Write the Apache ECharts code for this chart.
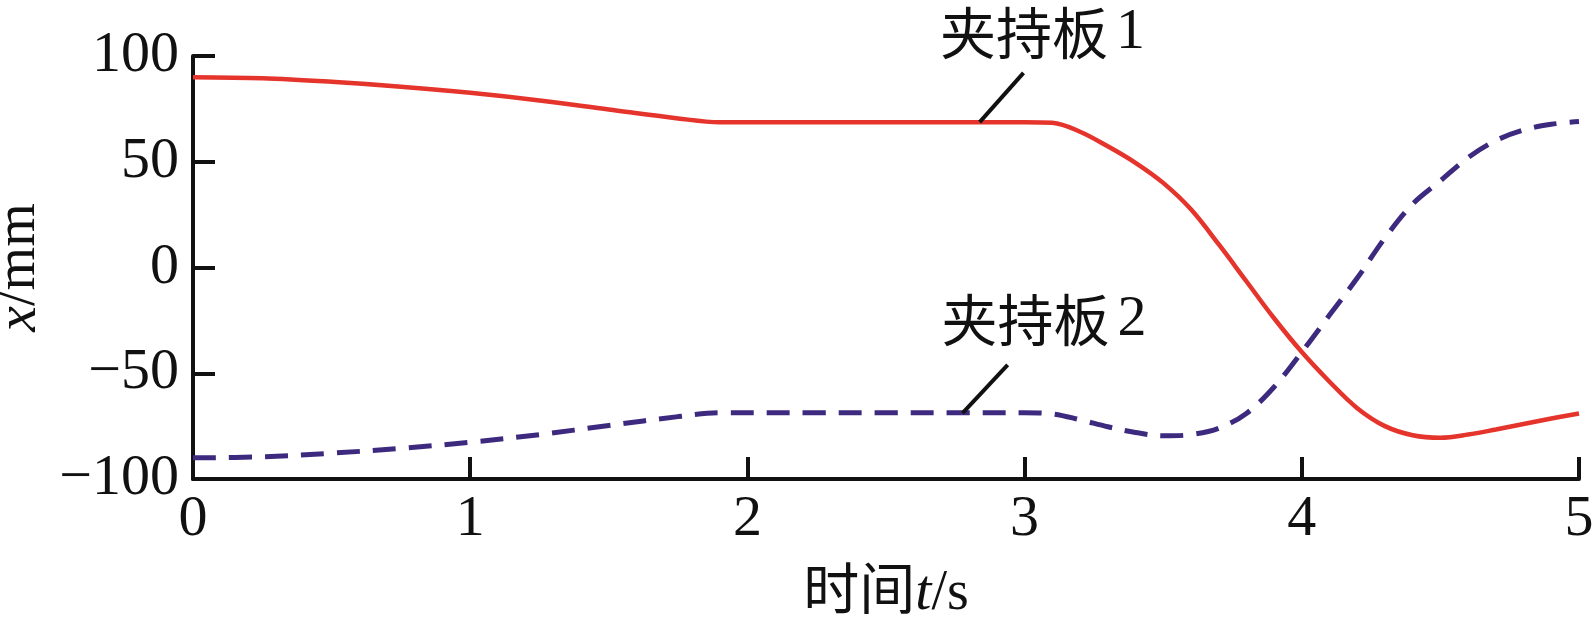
<!DOCTYPE html>
<html>
<head>
<meta charset="utf-8">
<script src="https://cdn.jsdelivr.net/npm/echarts@6/dist/echarts.min.js"></script>
<style>
html,body{margin:0;padding:0;background:#fff;}
#main{width:1593px;height:631px;}
</style>
</head>
<body>
<div id="main"></div>
<script>
// time samples (s)
const times = [0,0.25,0.5,0.75,1,1.25,1.5,1.75,1.9,2.25,2.5,2.75,3.0,3.1,3.2,3.3,3.4,3.5,3.6,3.7,3.8,3.9,4.0,4.1,4.2,4.3,4.4,4.5,4.6,4.7,4.8,4.9,5.0];
// 夹持板1 (mm)
const plate1 = [90,89.5,87.8,85.5,82.6,79,74.7,70.5,68.7,68.7,68.7,68.7,68.7,68.4,64.2,57.3,49.5,40,27.5,11,-6.5,-24,-40,-54,-66.5,-75,-79.3,-80.5,-79,-76.6,-74,-71.4,-69];
// 夹持板2 (mm)
const plate2 = [-90,-89.5,-87.8,-85.5,-82.6,-79,-74.7,-70.5,-68.7,-68.7,-68.7,-68.7,-68.7,-69.2,-72,-75.3,-78,-79.6,-79,-76,-69,-56.5,-40,-22.5,-5,14,30,41,52,60,65,67.7,69];
// axis ticks
const xTicks = [0,1,2,3,4,5];
const yTicks = [-100,-50,0,50,100];
// annotations: text, text anchor [t, x], leader line start/end
const annTexts = ['夹持板1','夹持板2'];
const annTextPos = [[3.065,111],[3.07,-24.8]];
const annLineFrom = [[2.838,68.7],[2.776,-68.8]];
const annLineTo = [[2.996,92],[2.939,-46]];

const SERIF = '"Liberation Serif","Times New Roman","Noto Sans CJK SC",serif';
const fmt = v => v < 0 ? '\u2212' + Math.abs(v) : String(v);

const chart = echarts.init(document.getElementById('main'));
const pair = arr => times.map((t,i)=>[t,arr[i]]);

chart.setOption({
  animation:false,
  backgroundColor:'#fff',
  grid:{left:193,right:14,top:56,bottom:152,containLabel:false,outerBoundsMode:'none'},
  xAxis:{
    type:'value',min:xTicks[0],max:xTicks[xTicks.length-1],interval:1,
    axisLine:{show:true,onZero:false,lineStyle:{color:'#111',width:4}},
    axisTick:{show:true,inside:true,length:22,lineStyle:{color:'#111',width:4}},
    splitLine:{show:false},
    axisLabel:{color:'#111',fontFamily:SERIF,fontSize:58,margin:12},
    name:'{a|时间}{i|t}{a|/s}',
    nameLocation:'middle',nameGap:86,
    nameTextStyle:{rich:{
      a:{fontFamily:SERIF,fontSize:56,color:'#111'},
      i:{fontFamily:SERIF,fontSize:58,fontStyle:'italic',color:'#111'}
    }}
  },
  yAxis:{
    type:'value',min:yTicks[0],max:yTicks[yTicks.length-1],interval:50,
    axisLine:{show:true,onZero:false,lineStyle:{color:'#111',width:4}},
    axisTick:{show:true,inside:true,length:22,lineStyle:{color:'#111',width:4}},
    splitLine:{show:false},
    axisLabel:{color:'#111',fontFamily:SERIF,fontSize:58,margin:14,formatter:fmt},
    name:'{i|x}{a|/mm}',
    nameLocation:'middle',nameGap:134,nameRotate:90,
    nameTextStyle:{rich:{
      a:{fontFamily:SERIF,fontSize:56,color:'#111'},
      i:{fontFamily:SERIF,fontSize:58,fontStyle:'italic',color:'#111'}
    }}
  },
  series:[
    {name:annTexts[0],type:'line',data:pair(plate1),showSymbol:false,smooth:0.35,
     lineStyle:{color:'#E5342B',width:4.5},z:3},
    {name:annTexts[1],type:'line',data:pair(plate2),showSymbol:false,smooth:0.35,
     lineStyle:{color:'#3D2A7F',width:5,type:[23,13]},z:2}
  ]
});

const px = c => chart.convertToPixel({gridIndex:0}, c);
const graphics = [];
annTexts.forEach((txt,i)=>{
  const a = px(annLineFrom[i]), b = px(annLineTo[i]), p = px(annTextPos[i]);
  graphics.push({type:'line',shape:{x1:a[0],y1:a[1],x2:b[0],y2:b[1]},style:{stroke:'#111',lineWidth:4},z:10});
  graphics.push({type:'text',x:p[0],y:p[1],style:{
    text:'{c|' + txt.slice(0,3) + '}{n|' + txt.slice(3) + '}',
    align:'center',verticalAlign:'middle',
    rich:{
      c:{fontFamily:'"Noto Sans CJK SC",sans-serif',fontSize:56,fill:'#111'},
      n:{fontFamily:SERIF,fontSize:58,fill:'#111',padding:[0,0,0,8]}
    }
  },z:10});
});
chart.setOption({graphic:graphics});
</script>
</body>
</html>
